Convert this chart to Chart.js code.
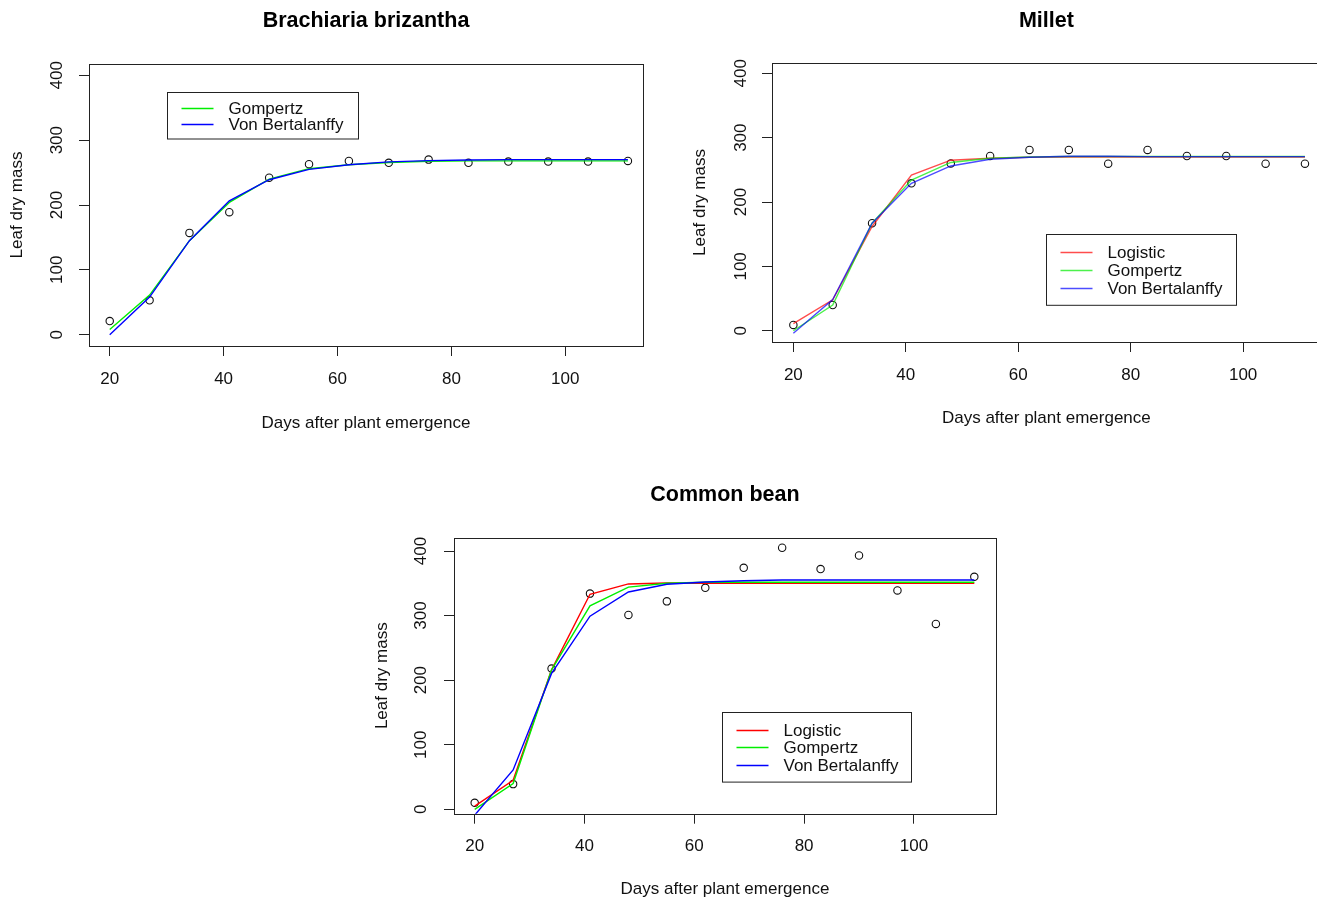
<!DOCTYPE html>
<html>
<head>
<meta charset="utf-8">
<script src="https://cdn.jsdelivr.net/npm/chart.js@4"></script>
<style>
  html, body { margin: 0; padding: 0; background: #fff; overflow: hidden; }
  body { width: 1317px; height: 901px; position: relative; }
  canvas { position: absolute; }
</style>
</head>
<body>
<canvas id="brachiaria" width="660" height="450" style="left:0;top:0"></canvas>
<canvas id="millet" width="660" height="450" style="left:680px;top:0"></canvas>
<canvas id="bean" width="660" height="431" style="left:360px;top:470px"></canvas>
<script>
// Data
const days = [20, 27, 34, 41, 48, 55, 62, 69, 76, 83, 90, 97, 104, 111];
const xTicks = [20, 40, 60, 80, 100];
const yTicks = [0, 100, 200, 300, 400];

const brachObs      = [21, 53, 157, 189, 242, 263, 268, 265, 270, 265, 267, 267, 267, 268];
const brachGompertz = [8, 61, 145, 204, 240, 256, 262, 265.5, 267.5, 268, 268, 268, 268, 268];
const brachVB       = [0, 58, 145, 206.5, 239, 255, 262, 266.5, 268.5, 269.5, 270, 270, 270, 270];

const milletObs      = [9, 40, 167, 229, 260, 271.5, 281, 281, 259.5, 281, 271.5, 271.5, 259.5, 259.5];
const milletLogistic = [11, 48, 162, 242, 265, 268, 269.5, 270, 270, 270, 270, 270, 270, 270];
const milletGompertz = [0, 40, 167, 234, 261.5, 268, 270, 270.8, 270.8, 270.8, 270.8, 270.8, 270.8, 270.8];
const milletVB       = [-4, 48.5, 167, 229, 256, 266.5, 269.5, 271, 271, 270.5, 270.5, 270.5, 270.5, 270.5];

const beanObs      = [10, 39, 218, 334, 301, 322, 343, 374, 405, 372, 393, 339, 287, 360];
const beanLogistic = [5, 45, 216, 333, 349, 350.5, 350, 350, 350, 350, 350, 350, 350, 350];
const beanGompertz = [0, 40, 216, 315, 344, 350, 351.5, 351.5, 351.5, 351.5, 351.5, 351.5, 351.5, 351.5];
const beanVB       = [-9, 61, 210.5, 299, 336.5, 348.5, 352, 354, 355, 355, 355, 355, 355, 355];

const FONT = "'Liberation Sans', Arial, sans-serif";
const pairs = arr => days.map((d, i) => ({ x: d, y: arr[i] }));

// frame around the plot region, like R's box()
const boxPlugin = {
  id: 'rBox',
  afterDraw(chart) {
    const { ctx, chartArea: a } = chart;
    ctx.save();
    ctx.strokeStyle = '#222';
    ctx.lineWidth = 1;
    ctx.strokeRect(Math.round(a.left) + 0.5, Math.round(a.top) + 0.5,
      Math.round(a.right - a.left), Math.round(a.bottom - a.top));
    ctx.restore();
  }
};

// R style legend box anchored at a data coordinate (top-left)
function legendPlugin(leg, fits) {
  return {
    id: 'rLegend',
    afterDraw(chart) {
      const { ctx, scales } = chart;
      const x0 = Math.round(scales.x.getPixelForValue(leg.at[0])) + 0.5;
      const y0 = Math.round(scales.y.getPixelForValue(leg.at[1])) + 0.5;
      const h = leg.step * (fits.length + 1);
      ctx.save();
      ctx.fillStyle = '#fff';
      ctx.fillRect(x0, y0, leg.width, h);
      ctx.strokeStyle = '#222';
      ctx.lineWidth = 1;
      ctx.strokeRect(x0, y0, leg.width, h);
      ctx.font = '17px ' + FONT;
      ctx.textBaseline = 'middle';
      fits.forEach((f, i) => {
        const y = Math.round(y0 + leg.step * (i + 1)) + 0.5;
        ctx.strokeStyle = f.color;
        ctx.lineWidth = 1.4;
        ctx.beginPath();
        ctx.moveTo(x0 + 14, y);
        ctx.lineTo(x0 + 46, y);
        ctx.stroke();
        ctx.fillStyle = '#111';
        ctx.fillText(f.label, x0 + 61, y + 1);
      });
      ctx.restore();
    }
  };
}

function makePlot(id, cfg) {
  const datasets = [];
  cfg.fits.forEach((f, i) => {
    datasets.push({
      label: f.label, data: pairs(f.values), borderColor: f.color, borderWidth: 1.4,
      pointRadius: 0, tension: 0, fill: false, order: cfg.fits.length - i
    });
  });
  datasets.push({
    label: 'Observed', data: pairs(cfg.obs), showLine: false, pointRadius: 3.7,
    pointBorderColor: '#111', pointBackgroundColor: 'rgba(0,0,0,0)', pointBorderWidth: 1.1,
    order: cfg.fits.length + 1
  });

  new Chart(document.getElementById(id), {
    type: 'line',
    data: { datasets },
    plugins: [boxPlugin, legendPlugin(cfg.legend, cfg.fits)],
    options: {
      responsive: false,
      animation: false,
      devicePixelRatio: 1,
      layout: { padding: { left: 0, right: cfg.padRight, top: 0, bottom: 0 } },
      plugins: {
        legend: { display: false },
        tooltip: { enabled: false },
        title: {
          display: true, text: cfg.title, fullSize: false, color: '#000',
          font: { family: FONT, size: 21.5, weight: 'bold', lineHeight: '26px' },
          padding: { top: cfg.titleTop, bottom: cfg.titleBottom }
        }
      },
      scales: {
        x: {
          type: 'linear', min: cfg.xMin, max: cfg.xMax,
          afterBuildTicks: s => { s.ticks = xTicks.map(v => ({ value: v })); },
          afterFit: s => { s.height = cfg.xHeight; },
          grid: { drawOnChartArea: false, drawTicks: true, tickLength: 10, color: '#222' },
          border: { display: false },
          ticks: { color: '#111', padding: cfg.xTickPad, maxRotation: 0, font: { family: FONT, size: 17 } },
          title: {
            display: true, text: 'Days after plant emergence', color: '#111',
            font: { family: FONT, size: 17 }, padding: { top: 0, bottom: cfg.xTitlePad }
          }
        },
        y: {
          type: 'linear', min: cfg.yMin, max: cfg.yMax,
          afterBuildTicks: s => { s.ticks = yTicks.map(v => ({ value: v })); },
          afterFit: s => { s.width = cfg.yWidth; },
          grid: { drawOnChartArea: false, drawTicks: true, tickLength: 10, color: '#222' },
          border: { display: false },
          ticks: {
            color: '#111', padding: cfg.yTickPad, minRotation: 90, maxRotation: 90,
            crossAlign: 'center', font: { family: FONT, size: 17 }
          },
          title: {
            display: true, text: 'Leaf dry mass', color: '#111',
            font: { family: FONT, size: 17 }, padding: { top: cfg.yTitlePad, bottom: 0 }
          }
        }
      }
    }
  });
}

makePlot('brachiaria', {
  title: 'Brachiaria brizantha',
  obs: brachObs,
  fits: [
    { label: 'Gompertz', values: brachGompertz, color: '#00ee00' },
    { label: 'Von Bertalanffy', values: brachVB, color: '#0000ff' }
  ],
  xMin: 16.36, xMax: 113.65, yMin: -17.5, yMax: 417.5,
  padRight: 17, yWidth: 89, xHeight: 104,
  titleTop: 7.7, titleBottom: 30.3,
  yTitlePad: 7.1, yTickPad: 7.5, xTickPad: 13.1, xTitlePad: 16.5,
  legend: { at: [30, 375], width: 191, step: 15.5 }
});

makePlot('millet', {
  title: 'Millet',
  obs: milletObs,
  fits: [
    { label: 'Logistic', values: milletLogistic, color: 'rgba(255,0,0,0.7)' },
    { label: 'Gompertz', values: milletGompertz, color: 'rgba(0,235,0,0.7)' },
    { label: 'Von Bertalanffy', values: milletVB, color: 'rgba(0,0,255,0.7)' }
  ],
  xMin: 16.2, xMax: 113.8, yMin: -17.5, yMax: 416,
  padRight: 19.3, yWidth: 92, xHeight: 108,
  titleTop: 7.7, titleBottom: 29.3,
  yTitlePad: 10.1, yTickPad: 6.8, xTickPad: 12.8, xTitlePad: 21.5,
  legend: { at: [65, 150], width: 190, step: 17.7 }
});

makePlot('bean', {
  title: 'Common bean',
  obs: beanObs,
  fits: [
    { label: 'Logistic', values: beanLogistic, color: '#ff0000' },
    { label: 'Gompertz', values: beanGompertz, color: '#00ee00' },
    { label: 'Von Bertalanffy', values: beanVB, color: '#0000ff' }
  ],
  xMin: 16.23, xMax: 114.95, yMin: -6.8, yMax: 420.6,
  padRight: 24, yWidth: 94, xHeight: 87.3,
  titleTop: 12, titleBottom: 29.7,
  yTitlePad: 11.8, yTickPad: 8.1, xTickPad: 12.8, xTitlePad: 1.8,
  legend: { at: [65, 150], width: 189, step: 17.4 }
});
</script>
</body>
</html>
